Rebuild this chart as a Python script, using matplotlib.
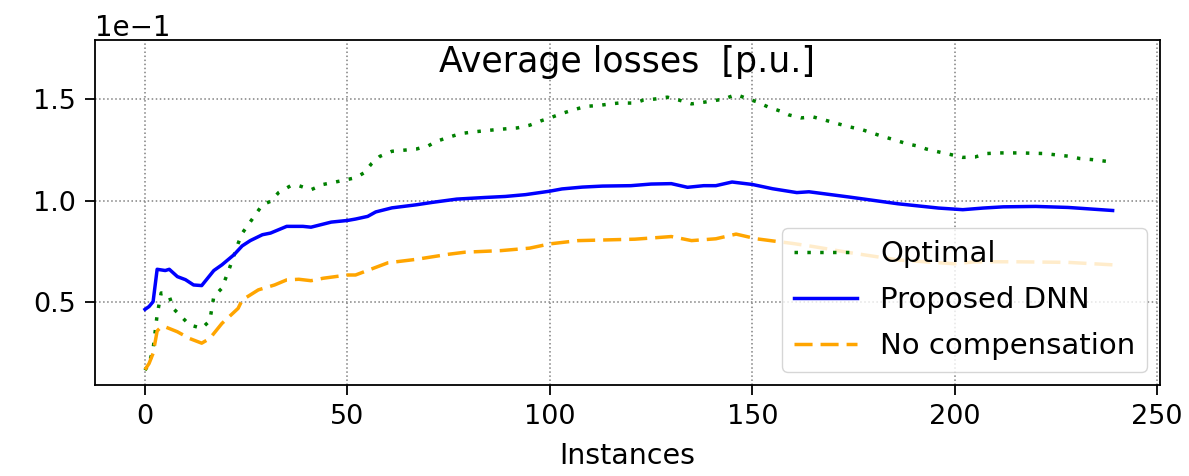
import matplotlib
matplotlib.use("Agg")
import matplotlib.pyplot as plt
import numpy as np

SCALE = 1e-1  # values below are read in units of 1e-1

opt_x = [0, 1, 2, 3, 4, 6, 7, 11, 14, 16, 17, 19, 21, 23, 24, 29, 31, 33, 36, 38, 41, 44, 49, 52, 54,
         56, 58, 61, 67, 70, 72, 75, 78, 81, 87, 92, 95, 98, 100, 103, 106, 109, 112, 115, 117, 121,
         123, 126, 129, 132, 135, 138, 140, 143, 146, 149, 151, 154, 157, 159, 162, 165, 168, 171, 174,
         177, 179, 182, 185, 188, 191, 193, 196, 199, 202, 205, 208, 211, 216, 222, 228, 231, 234, 239]
opt_y = [0.167, 0.20, 0.27, 0.44, 0.547, 0.53, 0.47, 0.39, 0.373, 0.41, 0.53, 0.57, 0.676, 0.79, 0.84,
         0.98, 0.997, 1.04, 1.074, 1.074, 1.054, 1.08, 1.10, 1.113, 1.136, 1.183, 1.218, 1.243, 1.254,
         1.27, 1.292, 1.312, 1.33, 1.338, 1.35, 1.358, 1.371, 1.394, 1.407, 1.429, 1.448, 1.464, 1.468,
         1.476, 1.48, 1.48, 1.494, 1.50, 1.509, 1.494, 1.476, 1.484, 1.49, 1.50, 1.522, 1.50, 1.487,
         1.46, 1.44, 1.422, 1.407, 1.412, 1.396, 1.379, 1.363, 1.35, 1.337, 1.317, 1.30, 1.281, 1.268,
         1.254, 1.24, 1.227, 1.213, 1.215, 1.232, 1.235, 1.235, 1.232, 1.219, 1.207, 1.202, 1.19]

dnn_x = [0, 1, 2, 3, 5, 6, 8, 10, 12, 14, 17, 19, 22, 24, 26, 29, 31, 35, 39, 41, 46, 50, 52, 55, 57,
         61, 67, 71, 77, 84, 89, 94, 100, 103, 108, 113, 120, 125, 130, 134, 138, 141, 145, 150, 155,
         161, 164, 174, 186, 196, 202, 207, 212, 220, 228, 239]
dnn_y = [0.466, 0.48, 0.504, 0.663, 0.657, 0.663, 0.627, 0.612, 0.586, 0.583, 0.657, 0.685, 0.735,
         0.778, 0.804, 0.833, 0.841, 0.874, 0.874, 0.870, 0.895, 0.903, 0.91, 0.923, 0.945, 0.965, 0.98,
         0.992, 1.008, 1.016, 1.021, 1.03, 1.047, 1.058, 1.067, 1.072, 1.074, 1.082, 1.084, 1.066, 1.074,
         1.074, 1.092, 1.08, 1.059, 1.040, 1.044, 1.018, 0.985, 0.964, 0.956, 0.964, 0.97, 0.972, 0.967,
         0.952]

noc_x = [0, 1, 2, 3, 4, 5, 8, 11, 14, 16, 19, 23, 24, 28, 32, 35, 38, 41, 44, 50, 52, 56, 60, 67, 75,
         79, 88, 95, 100, 107, 115, 121, 128, 130, 135, 141, 146, 151, 156, 160, 165, 174, 186, 200,
         205, 215, 228, 239]
noc_y = [0.17, 0.20, 0.25, 0.36, 0.38, 0.38, 0.356, 0.323, 0.30, 0.323, 0.397, 0.471, 0.512, 0.562,
         0.586, 0.611, 0.614, 0.607, 0.619, 0.635, 0.635, 0.665, 0.695, 0.712, 0.737, 0.747, 0.755,
         0.767, 0.788, 0.804, 0.808, 0.811, 0.821, 0.824, 0.804, 0.813, 0.836, 0.813, 0.80, 0.79, 0.775,
         0.745, 0.709, 0.69, 0.70, 0.70, 0.697, 0.685]

labels = ["Optimal", "Proposed DNN", "No compensation"]
title = "Average losses  [p.u.]"
xlabel = "Instances"
xticks = [0, 50, 100, 150, 200, 250]
yticks = [0.5, 1.0, 1.5]

fig = plt.figure(figsize=(11.89, 4.76), dpi=100)
ax = fig.add_axes([0.0799, 0.191, 0.8957, 0.725])

ax.plot(opt_x, np.array(opt_y) * SCALE, color="green", lw=2.5, linestyle=(0, (1, 2.7)), label=labels[0])
ax.plot(dnn_x, np.array(dnn_y) * SCALE, color="blue", lw=2.5, linestyle="-", label=labels[1])
ax.plot(noc_x, np.array(noc_y) * SCALE, color="orange", lw=2.5, linestyle=(0, (5.2, 2.3)), label=labels[2])

ax.set_xlim(-12.35, 250.7)
ax.set_ylim(0.094 * SCALE, 1.79 * SCALE)
ax.set_xticks(xticks)
ax.set_yticks(np.array(yticks) * SCALE)
ax.ticklabel_format(axis="y", style="sci", scilimits=(0, 0))
ax.tick_params(labelsize=19.5, length=7.5, width=1.3, pad=6)
ax.yaxis.get_offset_text().set_fontsize(20)
ax.grid(True, linestyle=":", color="gray", linewidth=1.1)
for s in ax.spines.values():
    s.set_linewidth(1.3)

ax.set_xlabel(xlabel, fontsize=20.5, labelpad=9)
ax.text(0.5, 0.936, title, transform=ax.transAxes, ha="center", va="center", fontsize=25)

ax.legend(loc="lower right", fontsize=21, framealpha=0.8, handlelength=2.15,
          labelspacing=0.62, borderaxespad=0.45)

fig.savefig("out.png", dpi=100)
